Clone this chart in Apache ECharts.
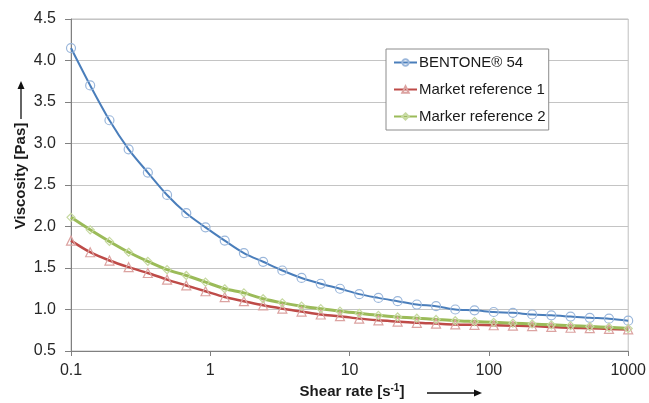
<!DOCTYPE html>
<html><head><meta charset="utf-8">
<script src="https://cdn.jsdelivr.net/npm/echarts@6/dist/echarts.min.js"></script>
<style>html,body{margin:0;padding:0;background:#fff}#c{width:649px;height:403px}</style>
</head><body><div id="c"></div>
<script>
const shearRates = [0.1, 0.1373, 0.1888, 0.2593, 0.3562, 0.4894, 0.6723, 0.9237, 1.269, 1.743,
  2.395, 3.290, 4.520, 6.210, 8.532, 11.72, 16.10, 22.12, 30.39, 41.75,
  57.36, 78.80, 108.3, 148.7, 204.3, 280.7, 385.7, 529.8, 727.9, 1000];
const bentone = [4.15, 3.70, 3.28, 2.93, 2.65, 2.38, 2.16, 1.99, 1.83, 1.68,
  1.575, 1.47, 1.38, 1.31, 1.25, 1.185, 1.14, 1.10, 1.06, 1.04,
  1.00, 0.99, 0.97, 0.96, 0.94, 0.93, 0.915, 0.90, 0.89, 0.865];
const market1 = [1.83, 1.69, 1.59, 1.51, 1.44, 1.36, 1.29, 1.22, 1.15, 1.10,
  1.05, 1.01, 0.975, 0.94, 0.92, 0.89, 0.87, 0.855, 0.84, 0.83,
  0.82, 0.815, 0.81, 0.805, 0.80, 0.79, 0.78, 0.775, 0.766, 0.76];
const market2 = [2.11, 1.96, 1.82, 1.69, 1.58, 1.48, 1.41, 1.33, 1.25, 1.20,
  1.13, 1.08, 1.04, 1.01, 0.98, 0.955, 0.93, 0.91, 0.895, 0.88,
  0.865, 0.855, 0.845, 0.835, 0.825, 0.815, 0.805, 0.795, 0.785, 0.77];
const seriesNames = ['BENTONE® 54', 'Market reference 1', 'Marker reference 2'];
const yMin = 0.5, yMax = 4.5, yStep = 0.5;
const xMin = 0.1, xMax = 1000;

const pair = (ys) => shearRates.map((x, i) => [x, ys[i]]);
const chart = echarts.init(document.getElementById('c'), null, {renderer: 'canvas'});
const font = '"Liberation Sans", Arial, sans-serif';
chart.setOption({
  animation: false,
  backgroundColor: '#fff',
  grid: {left: 71, right: 20, top: 19, bottom: 52, show: true, borderColor: '#bfbfbf', borderWidth: 1},
  legend: {
    orient: 'vertical', left: 386, top: 49,
    itemWidth: 23, itemHeight: 8, itemGap: 12,
    padding: [6, 3, 6, 7],
    borderColor: '#8c8c8c', borderWidth: 1, backgroundColor: '#fff',
    textStyle: {fontFamily: font, fontSize: 15, lineHeight: 15, color: '#1a1a1a', padding: [0, 0, 0, -3]},
    data: seriesNames
  },
  xAxis: {
    type: 'log', logBase: 10, min: xMin, max: xMax,
    axisLine: {show: true, lineStyle: {color: '#808080', width: 1}},
    axisTick: {show: true, length: 5, lineStyle: {color: '#808080'}},
    minorTick: {show: false},
    splitLine: {show: false},
    axisLabel: {fontFamily: font, fontSize: 16, color: '#262626', margin: 12,
      formatter: v => String(Number(v.toPrecision(3)))}
  },
  yAxis: {
    type: 'value', min: yMin, max: yMax, interval: yStep,
    axisLine: {show: true, lineStyle: {color: '#808080', width: 1}},
    axisTick: {show: true, length: 6, lineStyle: {color: '#808080'}},
    splitLine: {show: true, lineStyle: {color: '#c4c4c4', width: 1.2}},
    axisLabel: {fontFamily: font, fontSize: 16, color: '#262626', margin: 15,
      formatter: v => v.toFixed(1)}
  },
  graphic: [
    {type: 'text', x: 21, y: 176, rotation: Math.PI / 2,
      style: {text: 'Viscosity [Pas]', font: 'bold 15px ' + font, fill: '#1a1a1a', align: 'center', verticalAlign: 'middle'}},
    {type: 'line', shape: {x1: 21, y1: 119, x2: 21, y2: 84}, style: {stroke: '#111', lineWidth: 1.3}},
    {type: 'polygon', shape: {points: [[21, 81], [17.5, 89], [24.5, 89]]}, style: {fill: '#111'}},
    {type: 'text', x: 352, y: 392,
      style: {text: 'Shear rate [s{sup|-1}]', font: 'bold 15px ' + font, fill: '#1a1a1a', align: 'center', verticalAlign: 'middle',
        rich: {sup: {fontSize: 10, fontWeight: 'bold', fontFamily: font, fill: '#1a1a1a', padding: [0, 0, 8, 0]}}}},
    {type: 'line', shape: {x1: 427, y1: 393, x2: 478, y2: 393}, style: {stroke: '#111', lineWidth: 1.3}},
    {type: 'polygon', shape: {points: [[482, 393], [474, 389.5], [474, 396.5]]}, style: {fill: '#111'}}
  ],
  series: [
    {name: seriesNames[0], type: 'line', data: pair(bentone), smooth: 0.3,
      symbol: 'circle', symbolSize: 9,
      lineStyle: {color: '#4A7EBB', width: 2},
      itemStyle: {color: 'rgba(255,255,255,0)', borderColor: '#9bb7db', borderWidth: 1.2}},
    {name: seriesNames[1], type: 'line', data: pair(market1), smooth: 0.3,
      symbol: 'triangle', symbolSize: 9,
      lineStyle: {color: '#BE4B48', width: 2.5},
      itemStyle: {color: 'rgba(255,255,255,0)', borderColor: '#dca3a1', borderWidth: 1.2}},
    {name: seriesNames[2], type: 'line', data: pair(market2), smooth: 0.3,
      symbol: 'diamond', symbolSize: 8,
      lineStyle: {color: '#9BBB59', width: 3},
      itemStyle: {color: 'rgba(255,255,255,0)', borderColor: '#c6d9a0', borderWidth: 1.2}}
  ]
});
</script>
</body></html>
